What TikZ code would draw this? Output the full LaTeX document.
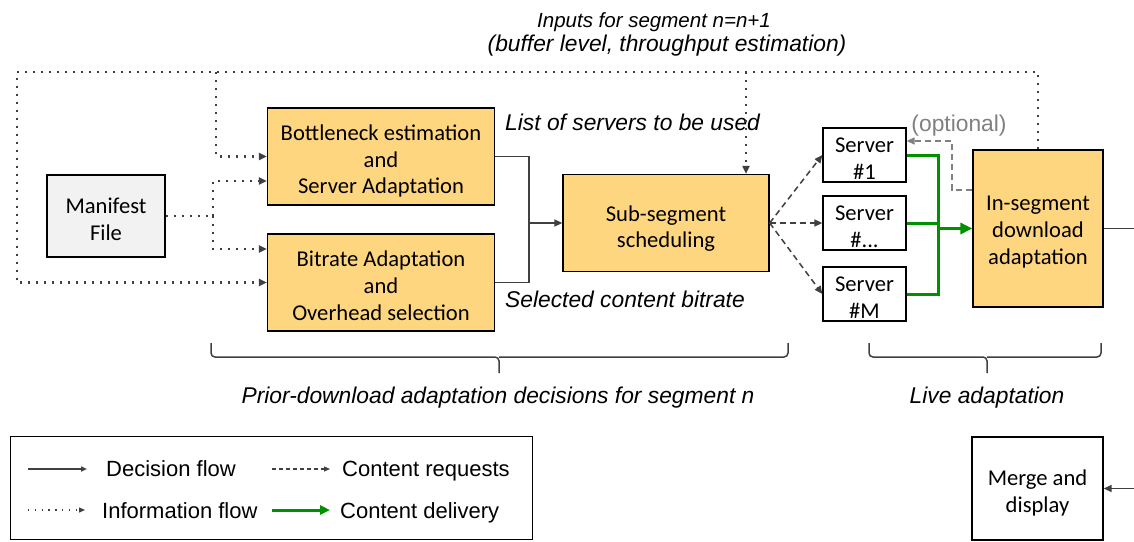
\documentclass[tikz,border=0pt]{standalone}
\usepackage{fontspec}
\setmainfont{Carlito}
\newfontfamily\arialfont{Liberation Sans}
\usepackage{xcolor}
\usepackage{tikz}
\usetikzlibrary{arrows.meta}

\definecolor{boxfill}{RGB}{255,214,128}
\definecolor{manfill}{RGB}{242,242,242}
\definecolor{linegray}{RGB}{64,64,64}
\definecolor{delgreen}{RGB}{0,145,0}
\definecolor{optgray}{RGB}{128,128,128}
\newcommand\bxfont{\fontsize{22.6}{26.8}\selectfont}
\newcommand\bxs[1]{\rule{0pt}{#1pt}}
\newcommand\notefont{\arialfont\itshape\fontsize{22.8}{26}\selectfont}
\newcommand\lgfont{\arialfont\fontsize{22}{26}\selectfont}

\tikzset{
  box/.style={draw=black,line width=1.3pt,fill=boxfill,inner sep=0pt,align=center,font=\bxfont},
  srv/.style={box,fill=white,minimum width=83,minimum height=54},
  note/.style={inner sep=0pt,font=\notefont},
  lgtext/.style={inner sep=0pt,font=\lgfont},
  tip/.style={-{Triangle[length=8pt,width=7pt]}},
  decision/.style={draw=linegray,line width=1.5pt},
  info/.style={draw=linegray,line width=2.2pt,dash pattern=on 2.2pt off 5.8pt},
  request/.style={draw=linegray,line width=1.5pt,dash pattern=on 6pt off 4pt},
  delivery/.style={draw=delgreen,line width=3pt},
  optreq/.style={draw=optgray,line width=1.5pt,dash pattern=on 6pt off 4pt},
  brc/.style={draw=linegray,line width=1.5pt,rounded corners=4pt}
}

\begin{document}
\begin{tikzpicture}[x=1pt,y=-1pt]
\useasboundingbox (0,0) rectangle (1134,541);

\node[box,fill=manfill,minimum width=118,minimum height=82] (manifest) at (106,216) {\bxs{22}Manifest\\File};
\node[box,minimum width=227,minimum height=97] (bneck) at (381,156.5) {\bxs{25}Bottleneck estimation\\and\\Server Adaptation};
\node[box,minimum width=227,minimum height=97] (brate) at (381,282.5) {\bxs{22}Bitrate Adaptation\\and\\Overhead selection};
\node[box,minimum width=206,minimum height=97] (subseg) at (666,223) {\bxs{27}Sub-segment\\scheduling};
\node[srv] (srv1) at (864.5,155) {\bxs{22}Server\\\#1};
\node[srv] (srvd) at (864.5,223) {\bxs{22}Server\\\#...};
\node[srv] (srvm) at (864.5,294) {\bxs{22}Server\\\#M};
\node[box,minimum width=130,minimum height=157] (inseg) at (1038,228.5) {\bxs{22}In-segment\\download\\adaptation};
\node[box,fill=white,minimum width=131,minimum height=103] (merge) at (1037.5,488.5) {\bxs{24}Merge and\\display};

\node[note,font=\arialfont\itshape\fontsize{20.5}{24}\selectfont,anchor=base] (inputs) at (654,27) {Inputs for segment n=n+1};
\node[note,anchor=base] (inputsb) at (667,51) {(buffer level, throughput estimation)};
\node[note,anchor=base west] (srvlist) at (505,130) {List of servers to be used};
\node[note,anchor=base west] (selrate) at (505,307) {Selected content bitrate};
\node[inner sep=0pt,font=\arialfont\fontsize{22.8}{26}\selectfont,text=optgray,anchor=base] (optional) at (959,131) {(optional)};

% information flow
\coordinate (tl) at (17,72);
\coordinate (j1) at (216,72);
\coordinate (j2) at (746,72);
\coordinate (j3) at (213,216);
\draw[info,tip] (inseg.north) |- (tl) |- (brate.west);
\draw[info,tip] (j1) |- (bneck.west);
\draw[info,tip] (j2) -- (j2 |- subseg.north);
\draw[info] (manifest.east) -- (j3);
\draw[info,tip] (j3) |- (bneck.west |- 0,181);
\draw[info,tip] (j3) |- (brate.west |- 0,249);

% decisions
\coordinate (jd) at (529,223);
\draw[decision] (bneck.east) -| (jd);
\draw[decision] (brate.east) -| (jd);
\draw[decision,tip] (jd) -- (subseg.west);

% requests and delivery
\draw[request,tip] (subseg.east) -- (srv1.west);
\draw[request,tip] (subseg.east) -- (srvd.west);
\draw[request,tip] (subseg.east) -- (srvm.west);
\coordinate (jg) at (938,228.5);
\draw[delivery] (srv1.east) -| (jg);
\draw[delivery] (srvm.east) -| (jg);
\draw[delivery] (srvd.east) -- (srvd.east -| jg);
\draw[delivery,-{Triangle[length=12pt,width=11pt]}] (jg) -- (inseg.west);
\coordinate (o1) at (952,190);
\coordinate (o2) at (952,141);
\draw[optreq,tip] (o1 -| inseg.west) -- (o1) -- (o2) -- (o2 -| srv1.east);

% to merge
\coordinate (rt) at (1134,228.5);
\coordinate (rb) at (1134,488.5);
\draw[decision] (inseg.east) -- (rt);
\draw[decision,tip] (rb) -- (merge.east);

% braces
\draw[brc] (211,343) |- (499,357) -- (499,373);
\draw[brc] (788,343) |- (499,357);
\draw[brc] (869,343) |- (987,357) -- (987,373);
\draw[brc] (1101,343) |- (987,357);
\node[note,anchor=base] (prior) at (498,403) {Prior-download adaptation decisions for segment n};
\node[note,anchor=base] (live) at (987,403) {Live adaptation};

% legend
\node[draw=black,line width=1.3pt,minimum width=522,minimum height=103,anchor=north west,inner sep=0pt] (legend) at (10,436) {};
\node[lgtext,anchor=base west] (ldec) at (106,476) {Decision flow};
\node[lgtext,anchor=base west] (lreq) at (342,476) {Content requests};
\node[lgtext,anchor=base west] (linfo) at (102,518) {Information flow};
\node[lgtext,anchor=base west] (ldel) at (340,518) {Content delivery};
\coordinate (la1) at (28,469);   \coordinate (lb1) at (87,469);
\coordinate (la2) at (272,469);  \coordinate (lb2) at (330,469);
\coordinate (la3) at (28,510);   \coordinate (lb3) at (85,510);
\coordinate (la4) at (272,510);  \coordinate (lb4) at (330,510);
\draw[decision,-{Triangle[length=6pt,width=5pt]}] (la1) -- (lb1);
\draw[request,dash pattern=on 4pt off 3pt,line width=1.2pt,-{Triangle[length=6pt,width=5pt]}] (la2) -- (lb2);
\draw[info,line width=1.3pt,dash pattern=on 1.3pt off 5.5pt,-{Triangle[length=6pt,width=5pt]}] (la3) -- (lb3);
\draw[delivery,-{Triangle[length=10pt,width=9pt]}] (la4) -- (lb4);
\end{tikzpicture}
\end{document}
